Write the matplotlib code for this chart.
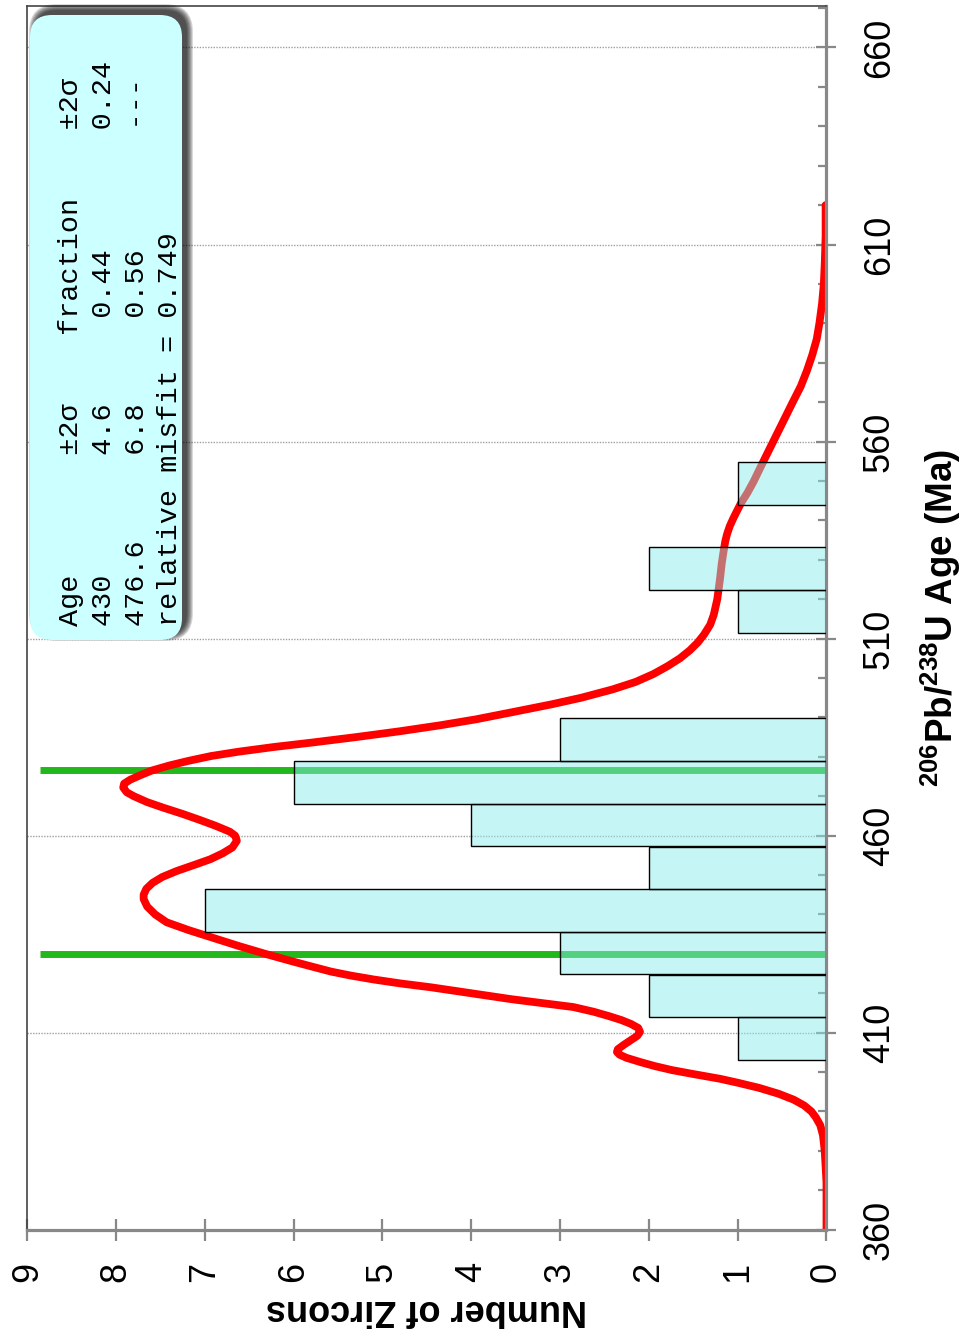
import numpy as np
import matplotlib
matplotlib.use('Agg')
import matplotlib.pyplot as plt
from matplotlib.patches import FancyBboxPatch
from matplotlib.transforms import IdentityTransform
from matplotlib.ticker import MultipleLocator

plt.rcParams['font.family'] = ['Liberation Sans', 'DejaVu Sans']
plt.rcParams['mathtext.fontset'] = 'custom'
plt.rcParams['mathtext.rm'] = 'Liberation Sans'
plt.rcParams['mathtext.bf'] = 'Liberation Sans:bold'

# histogram of 206Pb/238U ages (bin left edge, Ma) and zircon counts
bin_left = [403.1, 413.9, 424.8, 435.6, 446.4, 457.3, 468.1, 479.0,
            489.8, 500.6, 511.5, 522.3, 533.1, 544.0]
bin_width = 10.84
counts = [1, 2, 3, 7, 2, 4, 6, 3, 0, 0, 1, 2, 0, 1]

# probability density curve scaled to counts
curve_age = [360, 372, 380, 384, 386.5, 388.5, 390, 391.5, 393, 394.5,
             396, 397.3, 398.3, 399.5, 400.5, 401.5, 402.5, 403.6, 404.4, 405.1,
             405.8, 406.8, 408, 409.2, 410.2, 411.2, 412.2, 413.2, 414.2, 415.3,
             416.5, 417.5, 418.5, 419.5, 420.5, 421.5, 422.5, 423.5, 424.5, 425.5,
             426.8, 428, 430, 432, 434, 436, 438, 440, 442, 443.9,
             445, 446.5, 448, 449.5, 451, 452.8, 454, 455.5, 457, 458.7,
             460, 461, 462.5, 464, 465.5, 467.1, 468.5, 470, 471, 472.2,
             473.2, 474.2, 475.3, 476.5, 477.8, 479, 480.2, 481.3, 482.5, 483.6,
             485, 486.5, 488, 489.5, 491.5, 493.3, 495, 497.1, 499, 501,
             503, 505, 507, 509, 511, 513.5, 516, 520, 525, 529,
             532, 534.7, 536.5, 538.5, 540.5, 542.3, 544.5, 547, 549.9, 555,
             560, 565, 570, 574, 578, 582, 586, 590, 595, 600,
             605, 612, 620]
curve_count = [0.0, 0.0, 0.02, 0.04, 0.07, 0.12, 0.17, 0.25, 0.37, 0.54,
               0.76, 1.00, 1.20, 1.50, 1.74, 1.93, 2.09, 2.25, 2.33, 2.36,
               2.35, 2.29, 2.21, 2.13, 2.10, 2.12, 2.20, 2.31, 2.45, 2.62,
               2.85, 3.20, 3.55, 3.85, 4.15, 4.45, 4.80, 5.10, 5.36, 5.58,
               5.80, 6.00, 6.32, 6.62, 6.90, 7.18, 7.43, 7.56, 7.65, 7.69,
               7.69, 7.66, 7.59, 7.48, 7.32, 7.09, 6.94, 6.80, 6.69, 6.64,
               6.66, 6.72, 6.88, 7.06, 7.25, 7.47, 7.65, 7.80, 7.88, 7.92,
               7.91, 7.84, 7.73, 7.60, 7.40, 7.18, 6.93, 6.62, 6.22, 5.80,
               5.30, 4.80, 4.35, 3.95, 3.50, 3.10, 2.76, 2.41, 2.15, 1.95,
               1.79, 1.65, 1.54, 1.45, 1.38, 1.31, 1.27, 1.23, 1.20, 1.18,
               1.16, 1.14, 1.12, 1.09, 1.05, 1.01, 0.96, 0.89, 0.82, 0.71,
               0.60, 0.49, 0.38, 0.29, 0.22, 0.16, 0.11, 0.08, 0.05, 0.03,
               0.02, 0.01, 0.01]

# fitted component ages
peak_ages = [430, 476.6]

age_ticks = [360, 410, 460, 510, 560, 610, 660]
count_ticks = list(range(10))

table_lines = [
    'Age       \u00b12\u03c3    fraction    \u00b12\u03c3',
    '430       4.6     0.44       0.24',
    '476.6     6.8     0.56       ---',
    'relative misfit = 0.749',
]

fig = plt.figure(figsize=(9.63, 13.4), dpi=100)
ax = fig.add_axes([0.02835, 0.08231, 0.8299, 0.91343])

# counts run right-to-left, ages bottom-to-top
ax.set_xlim(9, 0)
ax.set_ylim(360, 670.6)

ax.set_axisbelow(True)
ax.yaxis.grid(True, color='#a0a0a0', linestyle=(0, (1, 1)), linewidth=1.0)

ax.hlines(peak_ages, 0, 8.86, color='#22b81c', linewidth=5, zorder=2)
ax.plot(curve_count, curve_age, color='#ff0000', linewidth=5.6,
        solid_joinstyle='round', solid_capstyle='round', zorder=2.2)

mask = np.array(counts) > 0
ax.barh(np.array(bin_left)[mask], np.array(counts)[mask], height=bin_width,
        align='edge', color=(0.53, 0.925, 0.925, 0.48), edgecolor='black',
        linewidth=1.0, zorder=3)

# axes frame
for side in ['right', 'bottom']:
    ax.spines[side].set_color('#888888')
    ax.spines[side].set_linewidth(2.3)
for side in ['left', 'top']:
    ax.spines[side].set_color('#444444')
    ax.spines[side].set_linewidth(1.2)

ax.yaxis.tick_right()
ax.set_yticks(age_ticks, [str(a) for a in age_ticks], rotation=90, va='center',
              fontsize=26)
ax.yaxis.set_minor_locator(MultipleLocator(10))
ax.tick_params(axis='y', which='major', direction='inout', length=15, width=1.6,
               color='#888888', pad=18)
ax.tick_params(axis='y', which='minor', direction='in', length=6, width=1.6,
               color='#888888')

ax.set_xticks(count_ticks, [str(c) for c in count_ticks], rotation=90,
              ha='center', va='top', fontsize=26)
ax.tick_params(axis='x', which='major', direction='inout', length=16, width=1.6,
               color='#888888', pad=15)

ax.yaxis.set_label_position('right')
ax.set_ylabel(r'$^{\mathbf{206}}$Pb/$^{\mathbf{238}}$U Age (Ma)', fontsize=26.5,
              fontweight='bold', rotation=90, rotation_mode='anchor',
              ha='center', va='baseline')
ax.yaxis.set_label_coords((953 - 27.3) / 799.2, 0.5)

ax.set_xlabel('Number of Zircons', fontsize=26, fontweight='bold', rotation=180,
              rotation_mode='anchor', ha='center', va='baseline')
ax.xaxis.set_label_coords(0.5, (1229.7 - 1300) / 1224)

# results box with a soft shadow, placed in pixel units
H = 1340
bx, by, bw, bh = 30, H - 640, 152, 625
for i in range(7):
    shadow = FancyBboxPatch((bx + 5 - i, by + 5 - i), bw + 2 * i, bh + 2 * i,
                            boxstyle='round,pad=0,rounding_size=%d' % (22 + i),
                            transform=IdentityTransform(), facecolor='black',
                            edgecolor='none', alpha=0.15, zorder=5)
    fig.add_artist(shadow)
box = FancyBboxPatch((bx, by), bw, bh, boxstyle='round,pad=0,rounding_size=22',
                     transform=IdentityTransform(), facecolor='#ccffff',
                     edgecolor='none', zorder=6)
fig.add_artist(box)

for i, line in enumerate(table_lines):
    fig.text((78 + 33 * i) / 963, 1 - 626 / H, line, rotation=90,
             rotation_mode='anchor', ha='left', va='baseline',
             family=['Liberation Mono', 'DejaVu Sans Mono'], fontsize=20.5,
             zorder=7)

fig.savefig('out.png', dpi=100, facecolor='white')
